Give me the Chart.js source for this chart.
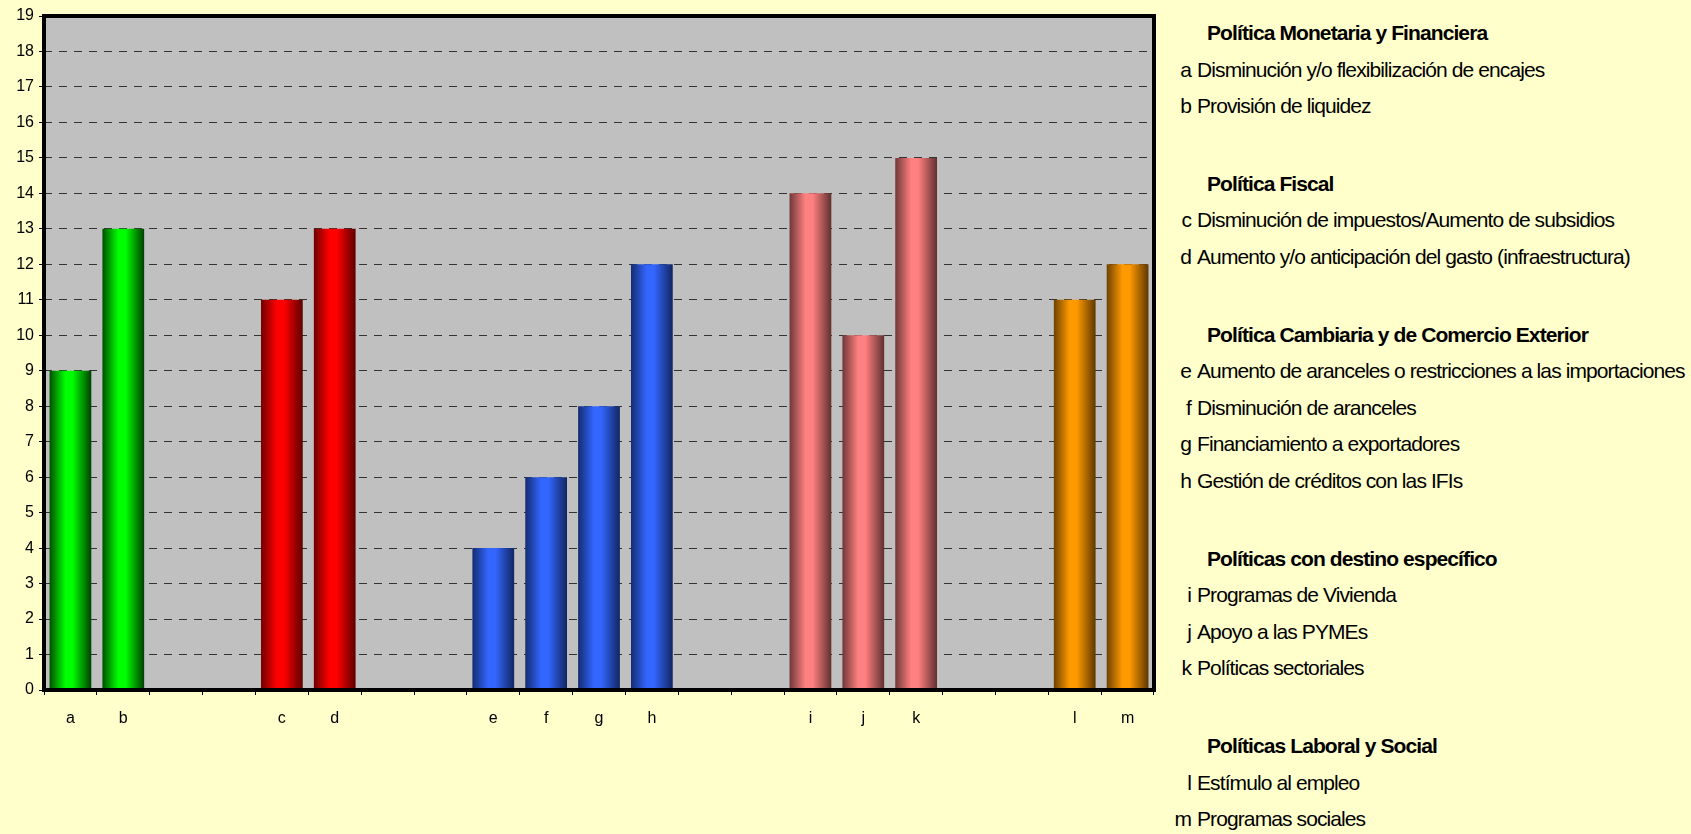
<!DOCTYPE html>
<html lang="es">
<head>
    <meta charset="UTF-8">
    <title>Medidas de política</title>
    <script src="https://cdn.jsdelivr.net/npm/chart.js"></script>
    <style>
        body {
            margin: 0;
            padding: 0;
            width: 1691px;
            height: 834px;
            overflow: hidden;
            background-color: #ffffcc;
            font-family: "Liberation Sans", Arial, sans-serif;
            position: relative;
        }

        .chart-container {
            position: absolute;
            left: 0;
            top: 0;
            width: 1160px;
            height: 834px;
        }

        .legend {
            position: absolute;
            left: 1171px;
            top: 15px;
            font-size: 21px;
            letter-spacing: -0.9px;
            line-height: 36.6px;
            color: #000;
            white-space: nowrap;
        }

        .legend .group + .group {
            margin-top: 41px;
        }

        .legend .heading {
            font-weight: bold;
            padding-left: 36px;
        }

        .legend .key {
            display: inline-block;
            width: 20px;
            text-align: right;
            margin-right: 6px;
        }
    </style>
</head>
<body>
    <div class="chart-container">
        <canvas id="policyChart" width="1160" height="834"></canvas>
    </div>
    <div class="legend" id="legend"></div>
    <script>
        // categorías del eje x (las vacías son los huecos entre grupos)
        const labels = ['a', 'b', '', '', 'c', 'd', '', '', 'e', 'f', 'g', 'h', '', '', 'i', 'j', 'k', '', '', 'l', 'm'];
        const counts = [9, 13, null, null, 11, 13, null, null, 4, 6, 8, 12, null, null, 14, 10, 15, null, null, 11, 12];
        const groupOf = [0, 0, null, null, 1, 1, null, null, 2, 2, 2, 2, null, null, 3, 3, 3, null, null, 4, 4];
        const yTicks = { min: 0, max: 19, step: 1 };

        const groupTitles = [
            'Política Monetaria y Financiera',
            'Política Fiscal',
            'Política Cambiaria y de Comercio Exterior',
            'Políticas con destino específico',
            'Políticas Laboral y Social'
        ];
        const groupItems = [
            [['a', 'Disminución y/o flexibilización de encajes'], ['b', 'Provisión de liquidez']],
            [['c', 'Disminución de impuestos/Aumento de subsidios'], ['d', 'Aumento y/o anticipación del gasto (infraestructura)']],
            [['e', 'Aumento de aranceles o restricciones a las importaciones'], ['f', 'Disminución de aranceles'], ['g', 'Financiamiento a exportadores'], ['h', 'Gestión de créditos con las IFIs']],
            [['i', 'Programas de Vivienda'], ['j', 'Apoyo a las PYMEs'], ['k', 'Políticas sectoriales']],
            [['l', 'Estímulo al empleo'], ['m', 'Programas sociales']]
        ];

        // colores: [borde izquierdo, centro, borde derecho]
        const groupColors = [
            ['#005000', '#00ff00', '#004000'],
            ['#700000', '#ff0000', '#5c0000'],
            ['#142c70', '#3366ff', '#112660'],
            ['#703838', '#ff8080', '#603030'],
            ['#6e4200', '#ff9900', '#5e3800']
        ];

        const BAR_PCT = 0.79;

        function barFill(context) {
            const g = groupOf[context.dataIndex];
            const cols = groupColors[g == null ? 0 : g];
            const chart = context.chart;
            if (!chart.chartArea || !chart.scales.x) return cols[1];
            const xScale = chart.scales.x;
            const cx = xScale.getPixelForValue(context.dataIndex);
            const slot = (xScale.right - xScale.left) / labels.length;
            const half = slot * BAR_PCT / 2;
            const grad = chart.ctx.createLinearGradient(cx - half, 0, cx + half, 0);
            grad.addColorStop(0, cols[0]);
            grad.addColorStop(0.38, cols[1]);
            grad.addColorStop(0.55, cols[1]);
            grad.addColorStop(1, cols[2]);
            return grad;
        }

        const plotFrame = {
            id: 'plotFrame',
            beforeDraw(chart) {
                const { ctx, chartArea: a } = chart;
                ctx.save();
                ctx.fillStyle = '#c0c0c0';
                ctx.fillRect(a.left, a.top, a.right - a.left, a.bottom - a.top);
                ctx.restore();
            },
            afterDraw(chart) {
                const { ctx, chartArea: a } = chart;
                ctx.save();
                ctx.strokeStyle = '#000';
                ctx.lineWidth = 4;
                ctx.strokeRect(a.left, a.top, a.right - a.left, a.bottom - a.top);
                ctx.restore();
            }
        };

        const ctx = document.getElementById('policyChart').getContext('2d');
        new Chart(ctx, {
            type: 'bar',
            data: {
                labels: labels,
                datasets: [{
                    data: counts,
                    backgroundColor: barFill,
                    borderWidth: 0,
                    categoryPercentage: 1,
                    barPercentage: BAR_PCT
                }]
            },
            options: {
                responsive: false,
                animation: false,
                devicePixelRatio: 1,
                layout: {
                    padding: { left: 0, top: 16, right: 6, bottom: 0 }
                },
                scales: {
                    x: {
                        afterFit: function(scale) { scale.height = 144; },
                        grid: {
                            offset: true,
                            drawOnChartArea: false,
                            drawTicks: true,
                            tickLength: 5,
                            tickColor: '#000',
                            tickWidth: 1
                        },
                        border: { display: false },
                        ticks: {
                            color: '#000',
                            padding: 14,
                            maxRotation: 0,
                            autoSkip: false,
                            font: { family: '"Liberation Sans", Arial', size: 16 }
                        }
                    },
                    y: {
                        min: yTicks.min,
                        max: yTicks.max,
                        afterFit: function(scale) { scale.width = 44; },
                        grid: {
                            color: '#333333',
                            lineWidth: 1,
                            tickBorderDash: [1, 0],
                            tickColor: '#000',
                            tickLength: 5
                        },
                        border: { display: false, dash: [8, 7] },
                        ticks: {
                            stepSize: yTicks.step,
                            color: '#000',
                            padding: 5,
                            font: { family: '"Liberation Sans", Arial', size: 16 }
                        }
                    }
                },
                plugins: {
                    legend: { display: false },
                    tooltip: { enabled: false }
                }
            },
            plugins: [plotFrame]
        });

        // leyenda de texto a la derecha
        const legendEl = document.getElementById('legend');
        groupTitles.forEach(function(title, gi) {
            const grp = document.createElement('div');
            grp.className = 'group';
            const h = document.createElement('div');
            h.className = 'heading';
            h.textContent = title;
            grp.appendChild(h);
            groupItems[gi].forEach(function(item) {
                const row = document.createElement('div');
                const k = document.createElement('span');
                k.className = 'key';
                k.textContent = item[0];
                row.appendChild(k);
                row.appendChild(document.createTextNode(item[1]));
                grp.appendChild(row);
            });
            legendEl.appendChild(grp);
        });
    </script>
</body>
</html>
